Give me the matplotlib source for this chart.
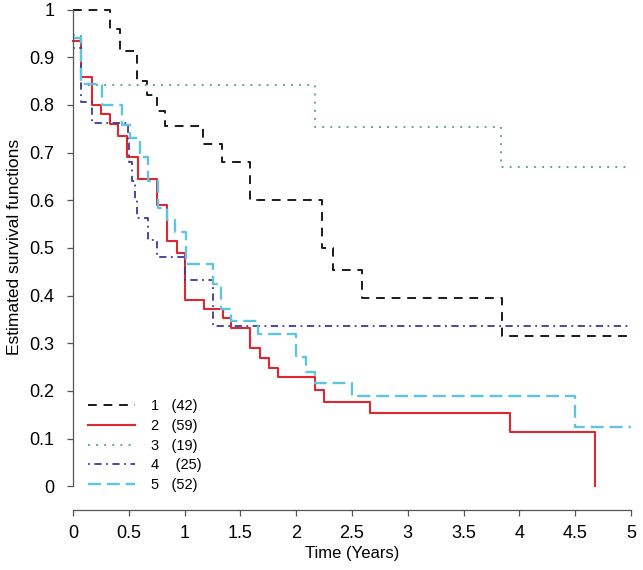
import matplotlib
matplotlib.use("Agg")
import matplotlib.pyplot as plt

# group sizes shown in the legend
groups = ["1", "2", "3", "4", "5"]
sizes = [42, 59, 19, 25, 52]

# step points (time in years, estimated survival)
t1 = [0, 0.33, 0.42, 0.575, 0.665, 0.755, 0.825, 1.165, 1.335, 1.585, 2.235, 2.33, 2.59, 3.84, 4.97]
s1 = [1.0, 0.96, 0.913, 0.851, 0.82, 0.787, 0.755, 0.717, 0.68, 0.60, 0.50, 0.453, 0.394, 0.314, 0.314]

t2 = [0, 0.07, 0.17, 0.25, 0.33, 0.40, 0.485, 0.58, 0.75, 0.84, 0.93, 1.0, 1.17, 1.34, 1.42,
      1.59, 1.68, 1.76, 1.84, 2.17, 2.25, 2.66, 3.92, 4.68]
s2 = [0.933, 0.858, 0.80, 0.78, 0.76, 0.735, 0.69, 0.645, 0.59, 0.515, 0.49, 0.39, 0.371, 0.352, 0.331,
      0.289, 0.268, 0.247, 0.228, 0.201, 0.176, 0.153, 0.113, 0.0]

t3 = [0, 0.07, 2.165, 3.835, 4.97]
s3 = [0.947, 0.842, 0.753, 0.669, 0.669]

t4 = [0, 0.07, 0.17, 0.49, 0.50, 0.53, 0.56, 0.575, 0.67, 0.75, 1.0, 1.255, 4.97]
s4 = [0.92, 0.805, 0.762, 0.72, 0.68, 0.64, 0.60, 0.562, 0.516, 0.48, 0.432, 0.335, 0.335]

t5 = [0, 0.07, 0.26, 0.44, 0.51, 0.60, 0.67, 0.76, 0.84, 0.915, 1.01, 1.255, 1.33, 1.42,
      1.66, 2.0, 2.09, 2.17, 2.50, 4.50, 5.0]
s5 = [0.94, 0.843, 0.80, 0.757, 0.73, 0.69, 0.64, 0.583, 0.558, 0.533, 0.467, 0.425, 0.371, 0.346,
      0.32, 0.27, 0.239, 0.216, 0.189, 0.124, 0.124]

x_ticks = [0, 0.5, 1, 1.5, 2, 2.5, 3, 3.5, 4, 4.5, 5]
x_labels = ["0", "0.5", "1", "1.5", "2", "2.5", "3", "3.5", "4", "4.5", "5"]
y_ticks = [0, 0.1, 0.2, 0.3, 0.4, 0.5, 0.6, 0.7, 0.8, 0.9, 1]
y_labels = ["0", "0.1", "0.2", "0.3", "0.4", "0.5", "0.6", "0.7", "0.8", "0.9", "1"]

plt.rcParams["font.family"] = ["Liberation Sans", "DejaVu Sans"]

fig = plt.figure(figsize=(6.43, 5.70), dpi=100)
ax = fig.add_axes([73 / 643, 60 / 570, 558 / 643, 500.5 / 570])

styles = [
    dict(color="#1a1a1a", lw=1.4, dashes=(4.5, 3.5)),
    dict(color="#e0262f", lw=1.5, linestyle="-"),
    dict(color="#44a566", lw=1.3, dashes=(1, 3.5)),
    dict(color="#3a3a9c", lw=1.3, dashes=(1, 2.5, 4, 2.5)),
    dict(color="#5ec4e0", lw=1.7, dashes=(5.5, 2.5)),
]
series = [(t1, s1), (t2, s2), (t3, s3), (t4, s4), (t5, s5)]

for (t, s), st, g, n in zip(series, styles, groups, sizes):
    pad = "    " if g == "4" else "   "
    ax.plot(t, s, drawstyle="steps-post", clip_on=False,
            label=f"{g}{pad}({n})", **st)

ax.set_xticks(x_ticks)
ax.set_xticklabels(x_labels)
ax.set_yticks(y_ticks)
ax.set_yticklabels(y_labels)
ax.set_xlim(0, 5)
ax.set_ylim(-0.05, 1.0)

for side in ["top", "right"]:
    ax.spines[side].set_visible(False)
ax.spines["bottom"].set_position(("data", -0.05))
ax.spines["left"].set_bounds(0, 1)
ax.spines["bottom"].set_bounds(0, 5)
for side in ["left", "bottom"]:
    ax.spines[side].set_color("#555555")
    ax.spines[side].set_linewidth(0.9)

ax.tick_params(axis="both", direction="out", length=4.5, width=0.9, color="#555555",
               labelsize=13)
ax.tick_params(axis="x", pad=6)
ax.tick_params(axis="y", pad=9)

ax.set_xlabel("Time (Years)", fontsize=12)
ax.set_ylabel("Estimated survival functions", fontsize=12.5)
ax.xaxis.set_label_coords(0.5, -0.072)
ax.yaxis.set_label_coords(-0.092, 0.525)

ax.legend(loc="upper left", bbox_to_anchor=(88 / 643, 1 - 399 / 570),
          bbox_transform=fig.transFigure, frameon=False, fontsize=10.5,
          handlelength=3.2, handletextpad=1.1, labelspacing=0.40,
          borderpad=0, borderaxespad=0)

fig.savefig("out.png", dpi=100)
